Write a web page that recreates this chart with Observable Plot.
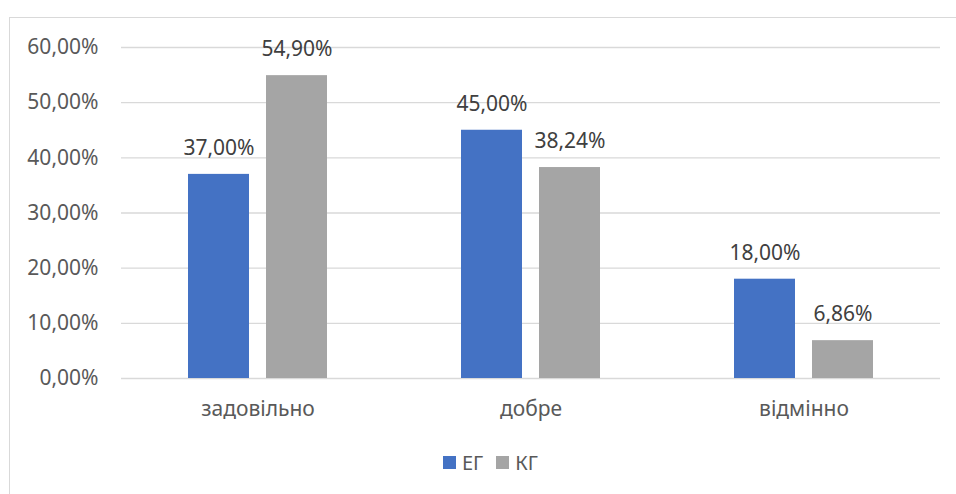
<!DOCTYPE html>
<html>
<head>
<meta charset="utf-8">
<script src="https://cdn.jsdelivr.net/npm/d3@7"></script>
<script src="https://cdn.jsdelivr.net/npm/@observablehq/plot@0.6"></script>
<style>
  html, body { margin: 0; padding: 0; background: #fff; }
  #wrap { position: relative; width: 956px; height: 494px; overflow: hidden; font-family: "Noto Sans", sans-serif; }
  #frame { position: absolute; left: 9px; top: 17px; width: 1200px; height: 1200px; border: 1px solid #d9d9d9; box-sizing: border-box; }
  #chart { position: absolute; left: 0; top: 0; }
  #legend { position: absolute; left: 443px; top: 449px; display: flex; font-size: 20px; color: #595959; }
  .item { display: flex; align-items: center; margin-right: 13px; }
  .sw { width: 13px; height: 13px; margin-right: 6px; }
</style>
</head>
<body>
<div id="wrap">
  <div id="frame"></div>
  <div id="chart"></div>
  <div id="legend"></div>
</div>
<script>
const categories = ["задовільно", "добре", "відмінно"];
const series = ["ЕГ", "КГ"];
const valuesEG = [37.00, 45.00, 18.00];
const valuesKG = [54.90, 38.24, 6.86];
const yTicks = [0, 10, 20, 30, 40, 50, 60];
const colors = ["#4472C4", "#A5A5A5"];

const fmt = d => d.toFixed(2).replace(".", ",") + "%";

const data = [];
categories.forEach((c, i) => {
  data.push({category: c, series: series[0], value: valuesEG[i]});
  data.push({category: c, series: series[1], value: valuesKG[i]});
});

const plot = Plot.plot({
  width: 956,
  height: 494,
  marginLeft: 121,
  marginRight: 16,
  marginTop: 47,
  marginBottom: 116,
  style: {fontFamily: "'Noto Sans', sans-serif", fontSize: "21px", color: "#595959", background: "transparent", overflow: "visible"},
  fx: {domain: categories, padding: 0, label: null},
  x: {domain: series, paddingInner: 0.218, paddingOuter: 0.859, axis: null},
  y: {domain: [0, 60], label: null},
  color: {domain: series, range: colors},
  marks: [
    Plot.gridY(yTicks, {stroke: "#d9d9d9", strokeOpacity: 1, strokeWidth: 1.3}),
    Plot.axisY(yTicks, {tickSize: 0, tickPadding: 23, tickFormat: fmt, label: null, fill: "#595959", fontSize: 21}),
    Plot.axisFx({anchor: "bottom", tickSize: 0, tickPadding: 23, label: null, fill: "#595959", fontSize: 21}),
    Plot.barY(data, {fx: "category", x: "series", y: "value", fill: "series"}),
    Plot.text(data, {fx: "category", x: "series", y: "value", text: d => fmt(d.value), dy: -26, fill: "#404040", fontSize: 21})
  ]
});
document.getElementById("chart").appendChild(plot);

const legend = document.getElementById("legend");
series.forEach((s, i) => {
  const item = document.createElement("div");
  item.className = "item";
  const sw = document.createElement("div");
  sw.className = "sw";
  sw.style.background = plot.scale("color").apply(s);
  const t = document.createElement("span");
  t.textContent = s;
  item.appendChild(sw);
  item.appendChild(t);
  legend.appendChild(item);
});
</script>
</body>
</html>
